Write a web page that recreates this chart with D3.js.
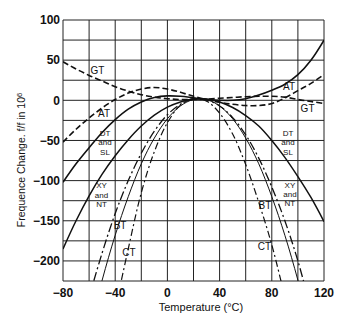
<!DOCTYPE html>
<html><head><meta charset="utf-8">
<script src="https://cdn.jsdelivr.net/npm/d3@7"></script>
<style>
html,body{margin:0;padding:0;background:#fff;}
svg{display:block;font-family:"Liberation Sans",Arial,sans-serif;}
</style></head>
<body><svg id="c" width="352" height="324"></svg>
<script>
// ---- data ----
const tempsFull = [-80,-70,-60,-50,-40,-30,-20,-10,0,10,20,30,40,50,60,70,80,90,100,110,120];
const atSolid  = [-102,-79,-59,-40,-24,-11,-2,3.5,5.5,5,3,1,0,0,2,6.5,12.5,20,32,50,75];
const atDashed = [-52,-36,-22,-9.5,1,9,14,16,14,10,5,1,-2.5,-5,-6.5,-6.5,-4,3,12,21,32];
const gtValues = [48,39,31,24,17,11.5,7,4,2,1,1,1.5,2.5,3.5,4.5,5,5,4,1,-1.5,-4];
const dtslValues = [-185,-150,-119,-92,-69,-49,-32,-18.5,-8.5,-2,1.5,1.5,-2,-9,-19,-32,-50,-71,-95,-121,-151];
const tempsXY = [-60,-50,-40,-30,-20,-10,0,10,20,30,40,50,60,70,80,90,100,110];
const xyntValues = [-245,-190,-141,-100,-66,-38.5,-18,-5,1.5,0.5,-7,-21.5,-43,-72,-108,-150,-200,-260];
const tempsBT = [-60,-50,-40,-30,-20,-10,0,10,20,30,40,50,60,70,80,90,100,110];
const btValues = [-288,-224,-168,-120,-79,-47,-23,-7,1,1,-7,-23,-47,-79,-120,-168,-224,-288];
const tempsCT = [-40,-30,-20,-10,0,10,20,30,40,50,60,70,80,90];
const ctValues = [-260,-185,-115,-64,-28,-6,2,-1,-16,-42,-80,-127,-180,-245];

const xTicks = [-80,-40,0,40,80,120];
const yTicks = [100,50,0,-50,-100,-150,-200];
const xGrid = [-80,-60,-40,-20,0,20,40,60,80,100,120];
const yGrid = [100,75,50,25,0,-25,-50,-75,-100,-125,-150,-175,-200,-225];

const curveLabels = [
  {t:-53.6, v:36.8, lines:["GT"]},
  {t:107.4, v:-9.7, lines:["GT"]},
  {t:-48.6, v:-15.9, lines:["AT"]},
  {t:93.2, v:17, lines:["AT"]},
  {t:-47.8, v:-52.4, lines:["DT","and","SL"]},
  {t:92.4, v:-52.4, lines:["DT","and","SL"]},
  {t:-50.5, v:-117.5, lines:["XY","and","NT"]},
  {t:93.9, v:-116.9, lines:["XY","and","NT"]},
  {t:-36.3, v:-155.9, lines:["BT"]},
  {t:74.8, v:-131.1, lines:["BT"]},
  {t:-29.4, v:-189.3, lines:["CT"]},
  {t:74.4, v:-181.3, lines:["CT"]}
];

// ---- chart ----
const svg = d3.select("#c");
const L=63, R=324, T=20, B=281;
const x = d3.scaleLinear().domain([-80,120]).range([L,R]);
const y = d3.scaleLinear().domain([-225,100]).range([B,T]);

svg.append("defs").append("clipPath").attr("id","clip")
  .append("rect").attr("x",L).attr("y",T).attr("width",R-L).attr("height",B-T);

const g = svg.append("g");
g.selectAll("line.vg").data(xGrid).join("line")
  .attr("x1",d=>x(d)).attr("x2",d=>x(d)).attr("y1",T).attr("y2",B)
  .attr("stroke","#222").attr("stroke-width",1);
g.selectAll("line.hg").data(yGrid).join("line")
  .attr("x1",L).attr("x2",R).attr("y1",d=>y(d)).attr("y2",d=>y(d))
  .attr("stroke","#222").attr("stroke-width",1);

// tick labels
svg.append("g").selectAll("text").data(yTicks).join("text")
  .attr("x",L-3).attr("y",d=>y(d)).attr("dy","0.36em")
  .attr("text-anchor","end").attr("font-size",12).attr("font-weight","bold").attr("fill","#111")
  .text(d=>d3.format("")(d).replace("-","\u2212"));
svg.append("g").selectAll("text").data(xTicks).join("text")
  .attr("x",d=>x(d)).attr("y",B+7).attr("dy","0.71em")
  .attr("text-anchor","middle").attr("font-size",12).attr("font-weight","bold").attr("fill","#111")
  .text(d=>d3.format("")(d).replace("-","\u2212"));

// axis titles
svg.append("text").attr("x",201).attr("y",311).attr("text-anchor","middle")
  .attr("font-size",11).attr("fill","#111").text("Temperature (\u00B0C)");
const yt = svg.append("text").attr("transform","translate(25,160) rotate(-90)")
  .attr("text-anchor","middle").attr("font-size",10.5).attr("fill","#111");
yt.append("tspan").text("Frequence Change. f/f in 10");
yt.append("tspan").attr("dy","-0.45em").attr("font-size",7.5).text("6");

// curves
const line = d3.line().x(d=>x(d[0])).y(d=>y(d[1])).curve(d3.curveCatmullRom.alpha(0.5));
const series = [
  {t:tempsFull, v:dtslValues, w:1.5, dash:null},
  {t:tempsXY, v:xyntValues, w:1.3, dash:"9,3,2,3"},
  {t:tempsBT, v:btValues, w:1.0, dash:null},
  {t:tempsCT, v:ctValues, w:1.2, dash:"7,3,2,3"},
  {t:tempsFull, v:gtValues, w:1.6, dash:"6,3"},
  {t:tempsFull, v:atDashed, w:1.6, dash:"6,3"},
  {t:tempsFull, v:atSolid, w:1.6, dash:null}
];
const cg = svg.append("g").attr("clip-path","url(#clip)");
series.forEach(s=>{
  cg.append("path").datum(s.t.map((t,i)=>[t,s.v[i]]))
    .attr("d",line).attr("fill","none").attr("stroke","#111")
    .attr("stroke-width",s.w).attr("stroke-dasharray",s.dash);
});

// curve labels
const lg = svg.append("g");
curveLabels.forEach(l=>{
  const n = l.lines.length, lh = 9.4;
  l.lines.forEach((s,i)=>{
    lg.append("text").attr("text-anchor","middle").attr("font-size",n>1?8:10).attr("fill","#111")
      .attr("x",x(l.t)).attr("y",y(l.v)+(i-(n-1)/2)*lh).attr("dy","0.36em").text(s);
  });
});
</script></body></html>
